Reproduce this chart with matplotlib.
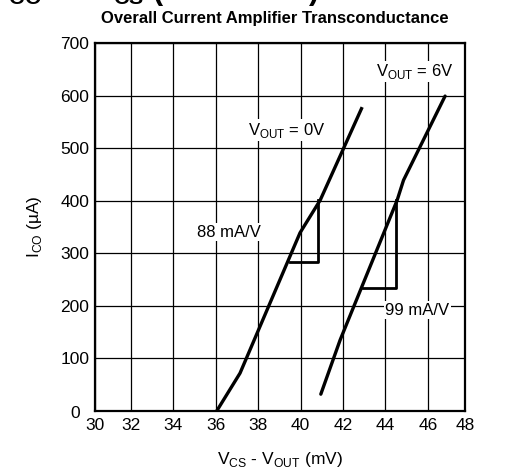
import matplotlib.pyplot as plt

plt.rcParams['font.family'] = ['Liberation Sans', 'DejaVu Sans']

# VOUT = 0V curve
vcs_0v = [36.04, 37.14, 39.97, 40.92, 42.9]
ico_0v = [0, 72, 339, 401, 578]
# VOUT = 6V curve
vcs_6v = [40.95, 41.86, 44.55, 44.85, 46.81]
ico_6v = [32, 135, 401, 439, 599]

# slope triangles (x_left, x_right, y_bottom, y_top)
tri_88 = [39.5, 40.82, 283, 401]
tri_99 = [42.94, 44.49, 234, 401]

xticks = [30, 32, 34, 36, 38, 40, 42, 44, 46, 48]
yticks = [0, 100, 200, 300, 400, 500, 600, 700]

fig = plt.figure(figsize=(5.09, 4.76), dpi=100)
ax = fig.add_axes([95 / 509, 1 - 411 / 476, 370 / 509, 368 / 476])

# the printed grid is slightly uneven: outer cells are narrower
x_lo, x_hi = 30.3, 47.75
ax.set_xlim(x_lo, x_hi)
ax.set_ylim(0, 700)
xpos = [x_lo] + xticks[1:-1] + [x_hi]
ax.set_xticks(xpos)
ax.set_yticks(yticks)
ax.set_xticklabels([str(t) for t in xticks])
ax.set_yticklabels(['' if t == 0 else str(t) for t in yticks])
ax.tick_params(length=0, labelsize=12.5, pad=4)
ax.tick_params(axis='x', pad=5)
ax.text(x_lo - 0.7, -5, '0', fontsize=12.5, ha='right', va='center')

ax.grid(True, color='black', linewidth=0.9)
ax.set_axisbelow(True)
for s in ax.spines.values():
    s.set_linewidth(1.6)

ax.plot(vcs_0v, ico_0v, color='black', linewidth=2.4, solid_capstyle='butt')
ax.plot(vcs_6v, ico_6v, color='black', linewidth=2.4, solid_capstyle='round')

for xl, xr, yb, yt in [tri_88, tri_99]:
    ax.plot([xl, xr, xr], [yb, yb, yt], color='black', linewidth=2.0)

box = dict(facecolor='white', edgecolor='none', pad=1)
ax.text(39.33, 534, 'V$_{\\mathregular{OUT}}$ = 0V', fontsize=12, ha='center', va='center', bbox=box)
ax.text(45.4, 646, 'V$_{\\mathregular{OUT}}$ = 6V', fontsize=12, ha='center', va='center', bbox=box)
ax.text(35.1, 340, '88 mA/V', fontsize=12, ha='left', va='center', bbox=box)
ax.text(45.5, 192, '99 mA/V', fontsize=12, ha='center', va='center', bbox=box)

ax.set_xlabel('V$_{\\mathregular{CS}}$ - V$_{\\mathregular{OUT}}$ (mV)', fontsize=12.5, labelpad=12)
ax.set_ylabel('I$_{\\mathregular{CO}}$ (\u00b5A)', fontsize=12.5, labelpad=12)

fig.text(275 / 509, 1 - 18 / 476, 'Overall Current Amplifier Transconductance',
         fontsize=12, fontweight='bold', ha='center', va='center')
# heading of the page, cut off by the top edge in the original
fig.text(0, 1 + 1 / 476, 'I$_{\\mathregular{CO}}$ vs V$_{\\mathregular{CS}}$ (continued)',
         fontsize=22, fontweight='bold', ha='left', va='baseline')

fig.savefig('out.png', dpi=100)
